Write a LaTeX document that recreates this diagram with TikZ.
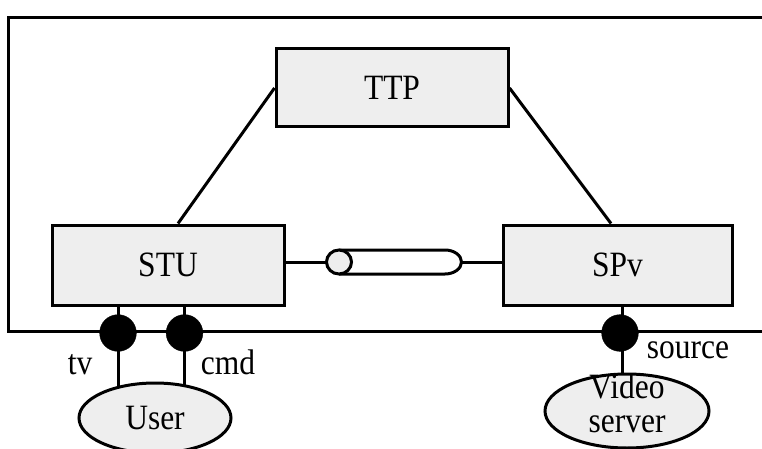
\documentclass[tikz,border=0pt]{standalone}
\usepackage{fontspec}
\usepackage{graphicx}
\setmainfont{Liberation Serif}
\usetikzlibrary{shapes.geometric,backgrounds}
\definecolor{boxgray}{HTML}{EEEEEE}
\newcommand{\stretchtxt}[1]{\scalebox{1}[1.13]{#1}}
\begin{document}
\begin{tikzpicture}[x=1pt,y=-1pt,
  every node/.style={font=\fontsize{31.5}{32}\selectfont},
  line/.style={line width=3pt},
  box/.style={draw,line width=3pt,fill=boxgray,rectangle,inner sep=0pt},
  port/.style={circle,fill=black,draw=black,minimum size=36.7pt,inner sep=0pt},
  actor/.style={draw,line width=3pt,fill=boxgray,ellipse,inner sep=0pt},
  plain/.style={inner sep=0pt}]
\useasboundingbox (0,0) rectangle (762,449);
% outer frame
\draw[line] (775,17.3) -- (8.7,17.3) -- (8.7,331.7) -- (775,331.7);
% boxes
\node[box,minimum width=232pt,minimum height=78pt] (TTP) at (392,88) {\stretchtxt{TTP}};
\node[box,minimum width=232pt,minimum height=80pt] (STU) at (168,265) {\stretchtxt{STU}};
\node[box,minimum width=229pt,minimum height=80pt] (SPv) at (617.5,265) {\stretchtxt{SPv}};
% actors
\node[actor,minimum width=152pt,minimum height=70pt] (User) at (155,418) {\stretchtxt{User}};
\node[actor,minimum width=164pt,minimum height=74pt] (Video) at (627,411)
  {\raisebox{-9pt}{\smash{\stretchtxt{\begin{tabular}[c]{@{}c@{}}Video\\[-2pt]server\end{tabular}}}}};
% ports
\node[port] (dtv) at (118,333) {};
\node[port] (dcmd) at (184.5,333) {};
\node[port] (dsrc) at (620,333) {};
% port labels
\node[plain] (ltv) at (80,365) {\stretchtxt{tv}};
\node[plain] (lcmd) at (228,362) {\stretchtxt{cmd}};
\node[plain] (lsrc) at (688,350) {\stretchtxt{source}};
% cylinder
\coordinate (cylL) at (326.5,262);
\coordinate (cylR) at (461.5,262);
\draw[line,fill=white] (339,250) -- (445,250) arc[start angle=90,end angle=-90,x radius=16.5pt,y radius=12pt] -- (339,274);
\draw[line,fill=boxgray] (339,262) ellipse [x radius=12.5pt,y radius=12pt];
% connectors
\draw[line] (TTP.west) -- ([xshift=10pt]STU.north);
\draw[line] (TTP.east) -- ([xshift=-6.5pt]SPv.north);
\draw[line] (STU.east |- cylL) -- (cylL);
\draw[line] (cylR) -- (SPv.west |- cylR);
\begin{scope}[on background layer]
\draw[line] (dtv |- STU.south) -- (dtv |- User.center);
\draw[line] (dcmd |- STU.south) -- (dcmd |- User.center);
\draw[line] ([xshift=2pt]dsrc |- SPv.south) -- ([xshift=2pt]dsrc |- Video.center);
\end{scope}
\end{tikzpicture}
\end{document}
